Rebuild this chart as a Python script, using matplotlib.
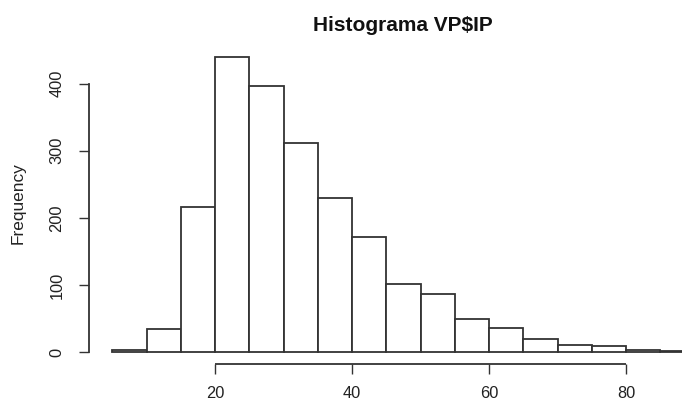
import matplotlib
matplotlib.use("Agg")
import matplotlib.pyplot as plt

# VP$IP histogram, bins of width 5 from 5 to 90
bin_edges = [5, 10, 15, 20, 25, 30, 35, 40, 45, 50, 55, 60, 65, 70, 75, 80, 85, 90]
counts = [3, 34, 217, 440, 396, 311, 230, 171, 101, 87, 50, 36, 19, 11, 9, 4, 2]
x_ticks = [20, 40, 60, 80]
y_ticks = [0, 100, 200, 300, 400]

plt.rcParams["font.family"] = ["Liberation Sans", "DejaVu Sans"]

W, H = 682, 401
fig = plt.figure(figsize=(W / 100, H / 100), dpi=100)
ax = fig.add_axes([89 / W, 37 / H, (718 - 89) / W, (364 - 45) / H])

edge_col = "#333333"
ax.bar(bin_edges[:-1], counts, width=5, align="edge", color="white",
       edgecolor=edge_col, linewidth=1.3, clip_on=False)

ax.set_xlim(1.6, 93.4)
ax.set_ylim(-17.6, 457.6)

# R style detached axes
for s in ["top", "right", "bottom"]:
    ax.spines[s].set_visible(False)
ax.spines["left"].set_bounds(0, 400)
ax.spines["left"].set_color(edge_col)
ax.spines["left"].set_linewidth(1.3)
ax.plot([x_ticks[0], x_ticks[-1]], [-17.6, -17.6], color=edge_col, lw=1.3,
        clip_on=False, solid_capstyle="butt")

ax.set_xticks(x_ticks)
ax.set_yticks(y_ticks)
ax.set_yticklabels([str(v) for v in y_ticks], rotation=90, va="center")
ax.tick_params(axis="both", direction="out", length=7.3, width=1.0,
               color=edge_col, labelsize=11.8, labelcolor="#222222")
ax.tick_params(axis="y", pad=10.5)
ax.tick_params(axis="x", pad=8.5)

fig.text(18 / W, 1 - 203 / H, "Frequency", rotation=90, ha="center", va="center",
         fontsize=12.4, color="#222222")
fig.text(402.5 / W, 1 - 31 / H, "Histograma VP$IP", ha="center", va="baseline",
         fontsize=15, fontweight="bold", color="#111111")

fig.savefig("out.png", dpi=100)
